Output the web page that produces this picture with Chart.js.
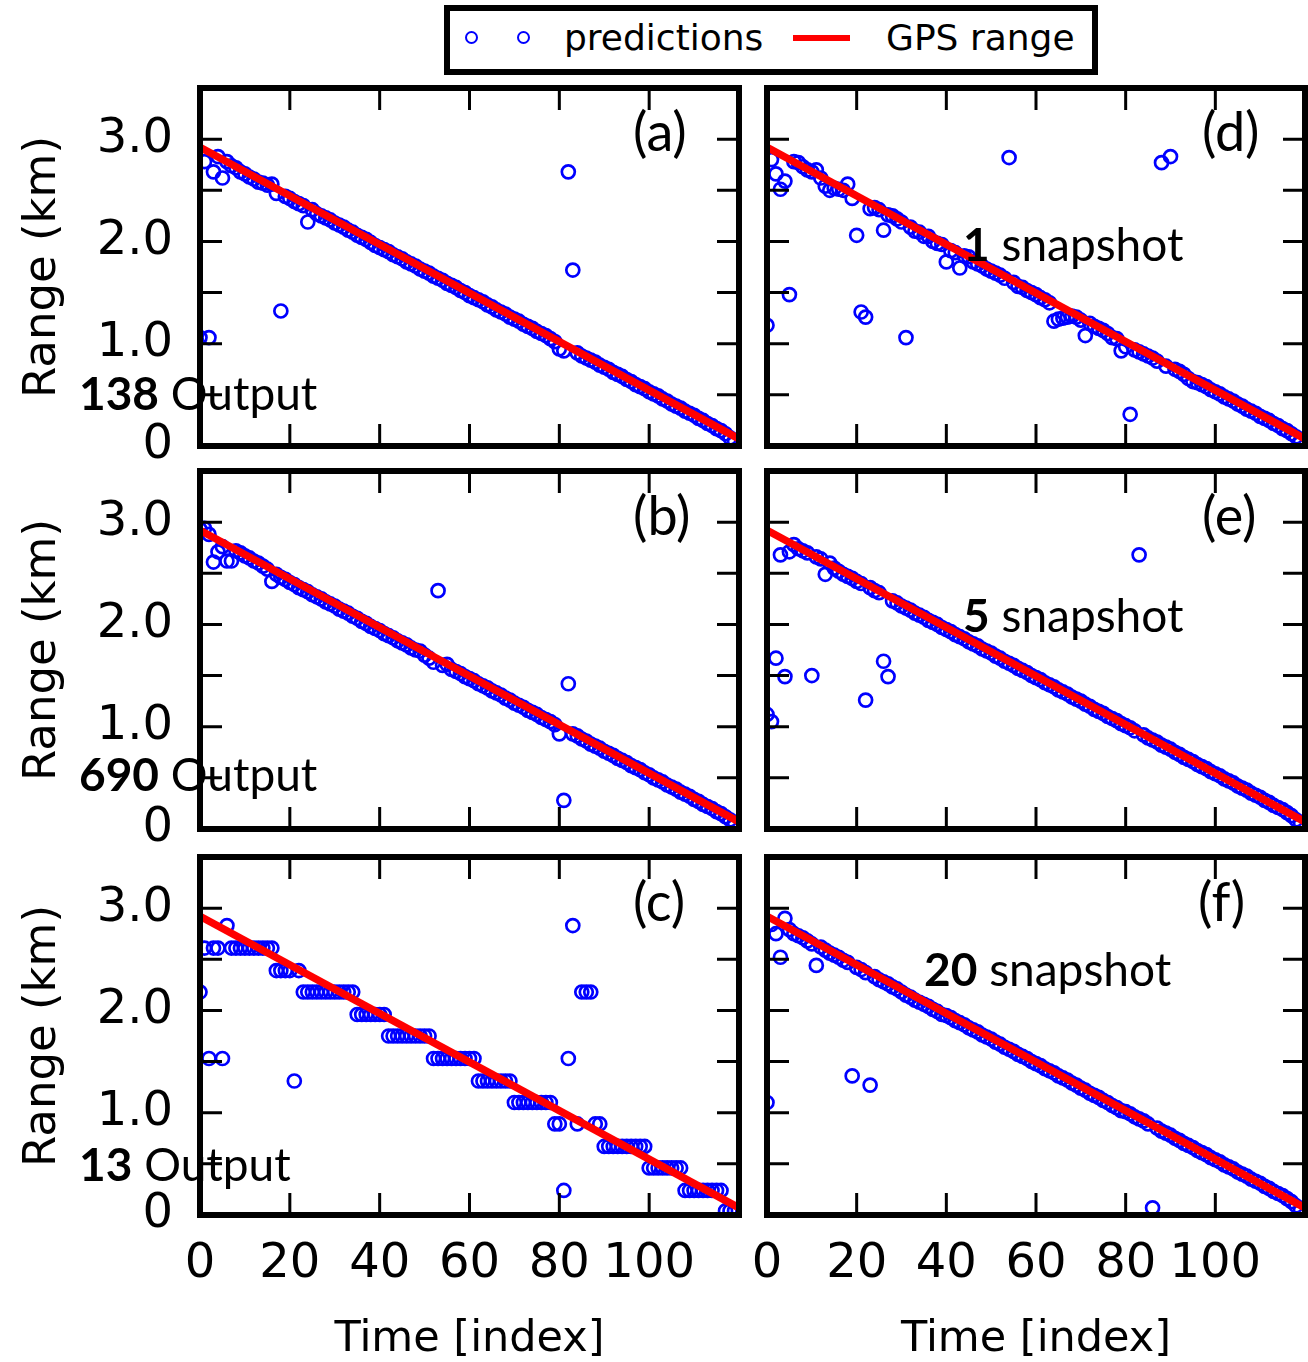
<!DOCTYPE html>
<html>
<head>
<meta charset="utf-8">
<title>Range predictions vs GPS range</title>
<script src="https://cdn.jsdelivr.net/npm/chart.js@4.4.1/dist/chart.umd.min.js"></script>
<style>
  html, body { margin: 0; padding: 0; background: #fff; }
  body { position: relative; width: 1308px; height: 1362px; overflow: hidden; }
  canvas { position: absolute; }
  .txt { position: absolute; white-space: nowrap; color: #000; }
  .legend-box { position: absolute; left: 444px; top: 5px; width: 642px; height: 58px; border: 6px solid #000; }
  .legend-txt { font-family: "DejaVu Sans", sans-serif; font-size: 36px; line-height: 36px; }
  .mark { position: absolute; top: 31px; width: 9px; height: 9px; border: 2.5px solid #0000ff; border-radius: 50%; }
  .redline { position: absolute; left: 793px; top: 35px; width: 57px; height: 6px; background: #ff0000; }
  .note { font-family: Lato, sans-serif; font-size: 46px; line-height: 46px; }
  .note b { font-weight: 700; }
  .tag { font-family: Lato, sans-serif; font-size: 54px; line-height: 54px; }
</style>
</head>
<body>
<canvas id="pa"></canvas>
<canvas id="pb"></canvas>
<canvas id="pc"></canvas>
<canvas id="pd"></canvas>
<canvas id="pe"></canvas>
<canvas id="pf"></canvas>

<!-- legend -->
<div class="legend-box"></div>
<div class="mark" style="left:465px"></div>
<div class="mark" style="left:517px"></div>
<div class="txt legend-txt" style="left:564px; top:20px">predictions</div>
<div class="redline"></div>
<div class="txt legend-txt" style="left:886px; top:20px">GPS range</div>

<!-- panel notes -->
<div class="txt tag" style="left:633px; top:104px">(a)</div>
<div class="txt tag" style="left:633px; top:488px">(b)</div>
<div class="txt tag" style="left:633px; top:874px">(c)</div>
<div class="txt tag" style="left:1202px; top:104px">(d)</div>
<div class="txt tag" style="left:1202px; top:488px">(e)</div>
<div class="txt tag" style="left:1198px; top:874px">(f)</div>
<div class="txt note" style="left:79px; top:370px"><b>138</b> Output</div>
<div class="txt note" style="left:79px; top:751px"><b>690</b> Output</div>
<div class="txt note" style="left:79px; top:1141px"><b>13</b> Output</div>
<div class="txt note" style="left:963px; top:221px"><b>1</b> snapshot</div>
<div class="txt note" style="left:963px; top:592px"><b>5</b> snapshot</div>
<div class="txt note" style="left:924px; top:946px"><b>20</b> snapshot</div>

<script>
// time axis: one prediction per index
const timeIndex = Array.from({ length: 120 }, (_, i) => i);

// GPS range (straight reference line), read at both ends
const gpsTime = [0, 120];
const gpsRange = [2.92, 0.07];

// tick labels
const xTickValues = [0, 20, 40, 60, 80, 100];
const xTickText = ['0', '20', '40', '60', '80', '100'];
const yTickValues = [0, 1, 2, 3];
const yTickText = ['0', '1.0', '2.0', '3.0'];

// (a) 138 outputs
const predA = [
  1.06, 2.78, 1.06, 2.68, 2.83, 2.62, 2.78, 2.74, 2.72, 2.68,
  2.66, 2.63, 2.61, 2.58, 2.57, 2.55, 2.56, 2.47, 1.32, 2.44,
  2.42, 2.39, 2.37, 2.35, 2.19, 2.31, 2.27, 2.25, 2.23, 2.21,
  2.18, 2.16, 2.14, 2.11, 2.09, 2.06, 2.04, 2.02, 1.99, 1.96,
  1.94, 1.92, 1.90, 1.87, 1.85, 1.83, 1.80, 1.78, 1.76, 1.73,
  1.71, 1.69, 1.66, 1.64, 1.62, 1.59, 1.57, 1.55, 1.52, 1.50,
  1.47, 1.45, 1.43, 1.41, 1.38, 1.36, 1.33, 1.31, 1.29, 1.26,
  1.24, 1.22, 1.19, 1.17, 1.15, 1.12, 1.10, 1.08, 1.05, 1.02,
  0.95, 0.93, 2.68, 1.72, 0.91, 0.88, 0.86, 0.84, 0.82, 0.79,
  0.77, 0.75, 0.72, 0.70, 0.68, 0.65, 0.63, 0.60, 0.58, 0.56,
  0.53, 0.51, 0.49, 0.46, 0.44, 0.41, 0.39, 0.37, 0.34, 0.32,
  0.30, 0.27, 0.25, 0.22, 0.20, 0.17, 0.15, 0.12, 0.08, 0.05
];

// (b) 690 outputs
const predB = [
  2.93, 2.94, 2.88, 2.61, 2.71, 2.76, 2.62, 2.62, 2.72, 2.70,
  2.67, 2.65, 2.62, 2.60, 2.57, 2.54, 2.42, 2.49, 2.46, 2.44,
  2.41, 2.39, 2.36, 2.34, 2.32, 2.29, 2.27, 2.25, 2.22, 2.20,
  2.18, 2.15, 2.13, 2.11, 2.08, 2.06, 2.03, 2.01, 1.98, 1.96,
  1.94, 1.91, 1.89, 1.87, 1.84, 1.82, 1.80, 1.77, 1.75, 1.74,
  1.70, 1.67, 1.63, 2.33, 1.60, 1.61, 1.56, 1.54, 1.52, 1.49,
  1.47, 1.45, 1.42, 1.40, 1.38, 1.35, 1.33, 1.31, 1.28, 1.26,
  1.23, 1.21, 1.19, 1.16, 1.14, 1.12, 1.09, 1.07, 1.05, 1.02,
  0.93, 0.28, 1.42, 0.93, 0.91, 0.88, 0.86, 0.83, 0.81, 0.79,
  0.76, 0.74, 0.72, 0.69, 0.67, 0.65, 0.62, 0.60, 0.58, 0.55,
  0.53, 0.50, 0.48, 0.46, 0.43, 0.41, 0.39, 0.36, 0.34, 0.32,
  0.29, 0.27, 0.24, 0.22, 0.20, 0.17, 0.15, 0.12, 0.09, 0.06
];

// (c) 13 outputs (quantised levels)
const predC = [
  2.18, 2.61, 1.53, 2.61, 2.61, 1.53, 2.83, 2.61, 2.61, 2.61,
  2.61, 2.61, 2.61, 2.61, 2.61, 2.61, 2.61, 2.39, 2.39, 2.39,
  2.39, 1.31, 2.39, 2.18, 2.18, 2.18, 2.18, 2.18, 2.18, 2.18,
  2.18, 2.18, 2.18, 2.18, 2.18, 1.96, 1.96, 1.96, 1.96, 1.96,
  1.96, 1.96, 1.75, 1.75, 1.75, 1.75, 1.75, 1.75, 1.75, 1.75,
  1.75, 1.75, 1.53, 1.53, 1.53, 1.53, 1.53, 1.53, 1.53, 1.53,
  1.53, 1.53, 1.31, 1.31, 1.31, 1.31, 1.31, 1.31, 1.31, 1.31,
  1.10, 1.10, 1.10, 1.10, 1.10, 1.10, 1.10, 1.10, 1.10, 0.89,
  0.89, 0.24, 1.53, 2.83, 0.89, 2.18, 2.18, 2.18, 0.89, 0.89,
  0.67, 0.67, 0.67, 0.67, 0.67, 0.67, 0.67, 0.67, 0.67, 0.67,
  0.46, 0.46, 0.46, 0.46, 0.46, 0.46, 0.46, 0.46, 0.24, 0.24,
  0.24, 0.24, 0.24, 0.24, 0.24, 0.24, 0.24, 0.04, 0.04, 0.04
];

// (d) 1 snapshot
const predD = [
  1.18, 2.80, 2.66, 2.51, 2.59, 1.48, 2.78, 2.77, 2.73, 2.70,
  2.68, 2.70, 2.62, 2.54, 2.50, 2.52, 2.51, 2.50, 2.56, 2.42,
  2.06, 1.31, 1.26, 2.32, 2.33, 2.31, 2.11, 2.26, 2.25, 2.22,
  2.19, 1.06, 2.14, 2.10, 2.09, 2.05, 2.05, 2.00, 1.98, 1.97,
  1.80, 1.91, 1.89, 1.74, 1.86, 1.85, 1.80, 1.78, 1.76, 1.73,
  1.71, 1.69, 1.67, 1.64, 2.82, 1.60, 1.56, 1.55, 1.52, 1.50,
  1.48, 1.45, 1.43, 1.40, 1.22, 1.24, 1.25, 1.26, 1.27, 1.26,
  1.23, 1.08, 1.20, 1.17, 1.15, 1.13, 1.10, 1.06, 1.05, 0.93,
  0.97, 0.31, 0.94, 0.92, 0.90, 0.88, 0.86, 0.83, 2.77, 0.78,
  2.83, 0.75, 0.73, 0.70, 0.66, 0.63, 0.62, 0.60, 0.58, 0.55,
  0.53, 0.51, 0.48, 0.46, 0.44, 0.41, 0.39, 0.36, 0.34, 0.32,
  0.29, 0.27, 0.25, 0.22, 0.20, 0.17, 0.15, 0.12, 0.09, 0.05
];

// (e) 5 snapshot
const predE = [
  1.12, 1.05, 1.67, 2.68, 1.49, 2.71, 2.78, 2.74, 2.72, 2.70,
  1.50, 2.66, 2.64, 2.49, 2.60, 2.55, 2.52, 2.49, 2.47, 2.45,
  2.42, 2.40, 1.26, 2.36, 2.33, 2.31, 1.64, 1.49, 2.23, 2.21,
  2.18, 2.16, 2.14, 2.11, 2.09, 2.07, 2.04, 2.02, 2.00, 1.97,
  1.95, 1.93, 1.90, 1.88, 1.86, 1.83, 1.81, 1.79, 1.76, 1.74,
  1.72, 1.69, 1.67, 1.64, 1.62, 1.60, 1.57, 1.55, 1.53, 1.50,
  1.48, 1.46, 1.43, 1.41, 1.39, 1.36, 1.34, 1.32, 1.29, 1.27,
  1.25, 1.22, 1.20, 1.17, 1.15, 1.13, 1.10, 1.08, 1.06, 1.03,
  1.01, 0.99, 0.96, 2.68, 0.92, 0.89, 0.87, 0.85, 0.82, 0.80,
  0.78, 0.75, 0.73, 0.70, 0.68, 0.66, 0.63, 0.61, 0.59, 0.56,
  0.54, 0.52, 0.49, 0.47, 0.45, 0.42, 0.40, 0.38, 0.35, 0.33,
  0.31, 0.28, 0.26, 0.23, 0.21, 0.19, 0.16, 0.13, 0.09, 0.06
];

// (f) 20 snapshot
const predF = [
  1.10, 2.84, 2.75, 2.52, 2.90, 2.79, 2.75, 2.73, 2.71, 2.68,
  2.65, 2.44, 2.62, 2.59, 2.56, 2.54, 2.52, 2.49, 2.47, 1.36,
  2.42, 2.40, 2.37, 1.27, 2.33, 2.30, 2.28, 2.26, 2.23, 2.21,
  2.18, 2.15, 2.13, 2.10, 2.08, 2.06, 2.04, 2.01, 1.99, 1.96,
  1.95, 1.93, 1.90, 1.88, 1.86, 1.83, 1.81, 1.79, 1.76, 1.74,
  1.72, 1.69, 1.67, 1.64, 1.62, 1.60, 1.57, 1.55, 1.53, 1.50,
  1.48, 1.46, 1.43, 1.41, 1.39, 1.36, 1.34, 1.32, 1.29, 1.27,
  1.24, 1.22, 1.19, 1.17, 1.15, 1.12, 1.10, 1.07, 1.05, 1.02,
  1.01, 0.99, 0.96, 0.94, 0.92, 0.89, 0.07, 0.85, 0.82, 0.80,
  0.78, 0.75, 0.73, 0.70, 0.68, 0.66, 0.63, 0.61, 0.59, 0.56,
  0.54, 0.52, 0.49, 0.47, 0.45, 0.42, 0.40, 0.38, 0.35, 0.33,
  0.31, 0.28, 0.26, 0.23, 0.21, 0.19, 0.16, 0.13, 0.09, 0.05
];

// placement of the six canvases (3 rows x 2 columns)
const rowBox = [
  { top: 80, height: 400, xAxisH: 34 },
  { top: 463, height: 400, xAxisH: 34 },
  { top: 849, height: 513, xAxisH: 147 }
];
const colBox = [
  { left: 0, width: 750, yAxisW: 200, padRight: 11 },
  { left: 750, width: 558, yAxisW: 17, padRight: 3 }
];

Chart.defaults.font.family = '"DejaVu Sans", sans-serif';
Chart.defaults.color = '#000';

function labelFor(v, values, texts) {
  const k = values.indexOf(v);
  return k >= 0 ? texts[k] : '';
}

// keep the plot area fixed: no extra room for overhanging labels
function noPad(s) {
  s.paddingTop = 0;
  s.paddingBottom = 0;
  s.paddingLeft = 0;
  s.paddingRight = 0;
}

// thick box round the plot area + inward ticks on all four sides
const framePlugin = {
  id: 'frame',
  afterDraw(chart) {
    const { ctx, chartArea: a, scales: { x, y } } = chart;
    const tick = 22;
    ctx.save();
    ctx.strokeStyle = '#000';
    ctx.lineWidth = 3;
    ctx.beginPath();
    x.ticks.forEach(t => {
      const px = x.getPixelForValue(t.value);
      ctx.moveTo(px, a.bottom); ctx.lineTo(px, a.bottom - tick);
      ctx.moveTo(px, a.top); ctx.lineTo(px, a.top + tick);
    });
    y.ticks.forEach(t => {
      const py = y.getPixelForValue(t.value);
      ctx.moveTo(a.left, py); ctx.lineTo(a.left + tick, py);
      ctx.moveTo(a.right, py); ctx.lineTo(a.right - tick, py);
    });
    ctx.stroke();
    ctx.lineWidth = 6;
    ctx.strokeRect(a.left, a.top, a.right - a.left, a.bottom - a.top);
    ctx.restore();
  }
};

function makePanel(id, preds, row, col) {
  const r = rowBox[row];
  const c = colBox[col];
  const bottomRow = row === 2;
  const leftCol = col === 0;
  const canvas = document.getElementById(id);
  canvas.width = c.width;
  canvas.height = r.height;
  canvas.style.left = c.left + 'px';
  canvas.style.top = r.top + 'px';
  canvas.style.width = c.width + 'px';
  canvas.style.height = r.height + 'px';

  return new Chart(canvas, {
    type: 'scatter',
    data: {
      datasets: [
        {
          label: 'GPS range',
          data: gpsTime.map((t, i) => ({ x: t, y: gpsRange[i] })),
          showLine: true,
          borderColor: '#ff0000',
          borderWidth: 7.5,
          pointRadius: 0,
          order: 1,
          clip: 0
        },
        {
          label: 'predictions',
          data: timeIndex.map((t, i) => ({ x: t, y: preds[i] })),
          pointBorderColor: '#0000ff',
          pointBackgroundColor: 'rgba(0,0,0,0)',
          pointBorderWidth: 2.7,
          pointRadius: 6.5,
          order: 2,
          clip: 0
        }
      ]
    },
    options: {
      responsive: false,
      animation: false,
      devicePixelRatio: 1,
      layout: { autoPadding: false, padding: { top: 8, right: c.padRight, bottom: 0, left: 0 } },
      plugins: { legend: { display: false }, tooltip: { enabled: false } },
      scales: {
        x: {
          type: 'linear',
          min: 0,
          max: 120,
          grid: { display: false },
          border: { display: false },
          ticks: {
            display: bottomRow,
            stepSize: 20,
            autoSkip: false,
            maxRotation: 0,
            minRotation: 0,
            padding: 13,
            font: { size: 48 },
            callback: v => labelFor(v, xTickValues, xTickText)
          },
          title: {
            display: bottomRow,
            text: 'Time [index]',
            font: { size: 43 },
            padding: { top: 0, bottom: -4 }
          },
          afterFit: s => { s.height = r.xAxisH; noPad(s); }
        },
        y: {
          type: 'linear',
          min: 0,
          max: 3.5,
          grid: { display: false },
          border: { display: false },
          ticks: {
            display: leftCol,
            stepSize: 0.5,
            autoSkip: false,
            padding: 19,
            font: { size: 48 },
            callback: v => labelFor(v, yTickValues, yTickText)
          },
          title: {
            display: leftCol,
            text: 'Range (km)',
            font: { size: 45 },
            padding: { top: 16, bottom: 0 }
          },
          afterFit: s => { s.width = c.yAxisW; noPad(s); }
        }
      }
    },
    plugins: [framePlugin]
  });
}

makePanel('pa', predA, 0, 0);
makePanel('pb', predB, 1, 0);
makePanel('pc', predC, 2, 0);
makePanel('pd', predD, 0, 1);
makePanel('pe', predE, 1, 1);
makePanel('pf', predF, 2, 1);
</script>
</body>
</html>
